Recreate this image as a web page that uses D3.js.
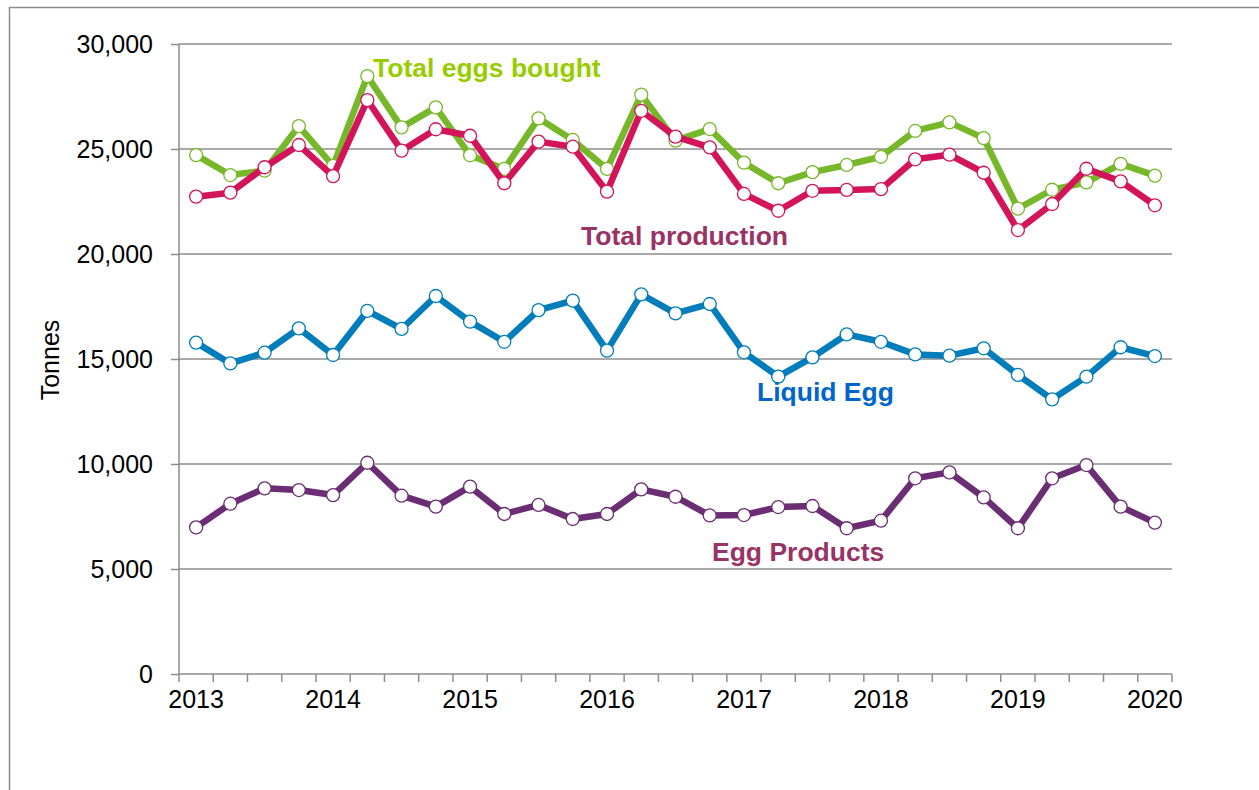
<!DOCTYPE html>
<html>
<head>
<meta charset="utf-8">
<script src="https://cdn.jsdelivr.net/npm/d3@7"></script>
<style>
  html, body { margin: 0; padding: 0; background: #fff; }
  svg { display: block; font-family: "Liberation Sans", Arial, sans-serif; }
</style>
</head>
<body>
<svg id="chart" width="1259" height="790"></svg>
<script>
const categories = [
  "2013 Q1","2013 Q2","2013 Q3","2013 Q4",
  "2014 Q1","2014 Q2","2014 Q3","2014 Q4",
  "2015 Q1","2015 Q2","2015 Q3","2015 Q4",
  "2016 Q1","2016 Q2","2016 Q3","2016 Q4",
  "2017 Q1","2017 Q2","2017 Q3","2017 Q4",
  "2018 Q1","2018 Q2","2018 Q3","2018 Q4",
  "2019 Q1","2019 Q2","2019 Q3","2019 Q4",
  "2020 Q1"
];
const yearLabels = ["2013","","","","2014","","","","2015","","","","2016","","","","2017","","","","2018","","","","2019","","","","2020"];
const totalEggsBought = [24710,23760,23970,26090,24200,28470,26030,26980,24700,24050,26460,25430,24050,27590,25400,25950,24350,23370,23900,24240,24630,25860,26270,25520,22160,23060,23410,24290,23730];
const totalProduction = [22730,22920,24130,25190,23710,27330,24920,25940,25630,23370,25350,25110,22970,26820,25590,25080,22860,22060,23010,23050,23090,24510,24730,23870,21140,22380,24060,23460,22320];
const liquidEgg = [15780,14790,15300,16460,15190,17290,16430,18000,16780,15820,17330,17780,15400,18080,17170,17620,15320,14160,15080,16170,15820,15220,15160,15510,14240,13080,14160,15560,15140];
const eggProducts = [6980,8110,8840,8760,8520,10060,8490,7970,8920,7620,8050,7380,7620,8790,8440,7550,7570,7950,8000,6940,7300,9320,9600,8410,6940,9320,9950,7970,7210];
const yTicks = [0,5000,10000,15000,20000,25000,30000];

const series = [
  {name: "Total eggs bought", values: totalEggsBought, color: "#77B82A", labelColor: "#99CC00", lx: 373, ly: 77},
  {name: "Total production", values: totalProduction, color: "#D4145A", labelColor: "#993366", lx: 581, ly: 245},
  {name: "Liquid Egg", values: liquidEgg, color: "#007DBA", labelColor: "#0066CC", lx: 757, ly: 401},
  {name: "Egg Products", values: eggProducts, color: "#6B2D73", labelColor: "#993366", lx: 712, ly: 561}
];

const svg = d3.select("#chart");
const plotLeft = 179, plotRight = 1172, plotTop = 44, plotBottom = 674;

// outer frame
svg.append("rect").attr("x", 9.5).attr("y", 7.5).attr("width", 1400).attr("height", 1000)
  .attr("fill", "none").attr("stroke", "#8c8c8c").attr("stroke-width", 1.5);

const x = d3.scaleBand().domain(categories).range([plotLeft, plotRight]).padding(0);
const y = d3.scaleLinear().domain([0, 30000]).range([plotBottom, plotTop]);
const cx = d => x(d) + x.bandwidth() / 2;

// gridlines
svg.append("g").selectAll("line").data(yTicks.filter(t => t > 0)).join("line")
  .attr("x1", plotLeft).attr("x2", plotRight)
  .attr("y1", d => y(d)).attr("y2", d => y(d))
  .attr("stroke", "#8c8c8c").attr("stroke-width", 1.5);

// y axis
const yAxis = d3.axisLeft(y).tickValues(yTicks).tickSize(8).tickPadding(18)
  .tickFormat(d3.format(","));
const gy = svg.append("g").attr("transform", `translate(${plotLeft},0)`).call(yAxis);
gy.select(".domain").attr("stroke", "#8c8c8c").attr("stroke-width", 1.5).attr("d", `M0,${plotTop}V${plotBottom}`);
gy.selectAll(".tick line").attr("stroke", "#8c8c8c").attr("stroke-width", 1.5);
gy.selectAll(".tick text").attr("font-size", 25).attr("fill", "#000")
  .attr("font-family", "Liberation Sans, Arial, sans-serif");

// x axis
const xAxis = d3.axisBottom(x).tickSize(0).tickPadding(16)
  .tickFormat((d, i) => yearLabels[i]);
const gx = svg.append("g").attr("transform", `translate(0,${plotBottom})`).call(xAxis);
gx.select(".domain").attr("stroke", "#8c8c8c").attr("stroke-width", 1.5).attr("d", `M${plotLeft},0H${plotRight}`);
gx.selectAll(".tick text").attr("font-size", 25).attr("fill", "#000")
  .attr("font-family", "Liberation Sans, Arial, sans-serif");
// category boundary ticks
const boundaries = categories.map(c => x(c)).concat([plotRight]);
gx.append("g").selectAll("line").data(boundaries).join("line")
  .attr("x1", d => d).attr("x2", d => d).attr("y1", 0).attr("y2", 8)
  .attr("stroke", "#8c8c8c").attr("stroke-width", 1.5);

// y axis title
svg.append("text").attr("transform", "translate(59,360) rotate(-90)")
  .attr("text-anchor", "middle").attr("font-size", 25).attr("fill", "#000")
  .text("Tonnes");

// lines
const line = d3.line().x((d, i) => cx(categories[i])).y(d => y(d));
series.forEach(s => {
  const g = svg.append("g");
  g.append("path").datum(s.values).attr("d", line)
    .attr("fill", "none").attr("stroke", s.color).attr("stroke-width", 6.5)
    .attr("stroke-linejoin", "round");
  g.selectAll("circle").data(s.values).join("circle")
    .attr("cx", (d, i) => cx(categories[i])).attr("cy", d => y(d))
    .attr("r", 6.5).attr("fill", "#fff").attr("stroke", s.color).attr("stroke-width", 1.3);
});

// labels
series.forEach(s => {
  svg.append("text").attr("x", s.lx).attr("y", s.ly)
    .attr("font-size", 26.5).attr("font-weight", "bold").attr("fill", s.labelColor)
    .text(s.name);
});
</script>
</body>
</html>
